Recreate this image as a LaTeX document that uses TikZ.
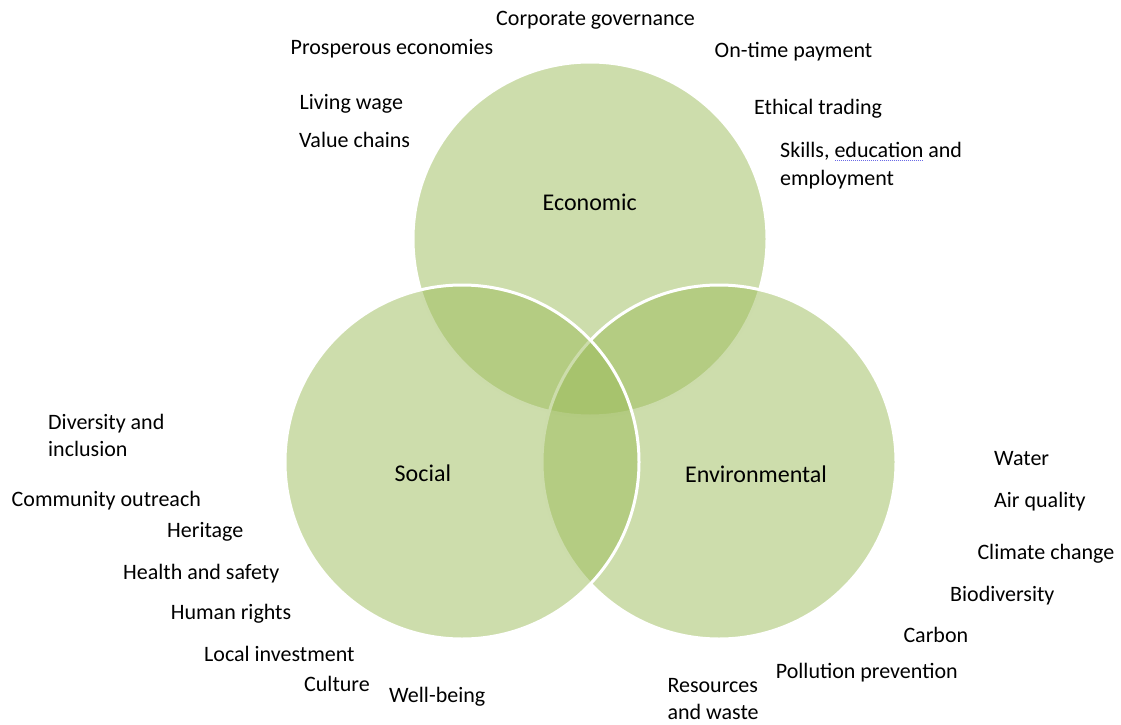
\documentclass[tikz,border=0pt]{standalone}
\usepackage{fontspec}
\setmainfont{Carlito}
\usepackage{xcolor}
\usetikzlibrary{positioning}
\definecolor{pillargreen}{HTML}{9BBB59}
\definecolor{spellblue}{HTML}{6A6AE6}

\newcommand{\spellmark}[1]{\setbox0\hbox{#1}\rlap{\color{spellblue}\raisebox{-3.4pt}{\hbox to\wd0{\xleaders\hbox to 2pt{\hss\rule{1pt}{0.9pt}\hss}\hfill}}}#1}

\begin{document}
\begin{tikzpicture}[
  x=1pt, y=-1pt,
  every node/.style={font=\fontsize{22}{27.5}\selectfont, inner sep=0pt},
  pillar/.style={circle, draw=white, line width=3pt, fill=pillargreen, fill opacity=0.5, draw opacity=1, minimum size=354pt, anchor=center},
  title/.style={anchor=base west, font=\fontsize{24}{29}\selectfont},
  item/.style={anchor=base west, align=left}
]
\useasboundingbox (0,0) rectangle (1121,725);

\node[pillar] (eco) at (590,239) {};
\node[pillar] (env) at (719,462) {};
\node[pillar] (soc) at (462,462) {};

\node[title] (ecolabel) at (542.5,210.7) {Economic};
\node[title] (soclabel) at (394.5,481.7) {Social};
\node[title] (envlabel) at (685,482.3) {Environmental};

% two-line items sit on the baseline of their last line
\node[item] (governance) at (496,25.7) {Corporate governance};
\node[item] (prosperous) at (290.5,55) {Prosperous economies};
\node[item] (payment) at (714.5,57.7) {On-time payment};
\node[item] (wage) at (299.5,109.3) {Living wage};
\node[item] (chains) at (299,147.3) {Value chains};
\node[item] (trading) at (754,114.3) {Ethical trading};
\node[item] (skills) at (780,185) {Skills, \spellmark{education} and\\employment};

\node[item] (diversity) at (48,456.5) {Diversity and\\inclusion};
\node[item] (outreach) at (11.5,506) {Community outreach};
\node[item] (heritage) at (167,537.3) {Heritage};
\node[item] (safety) at (123,579.3) {Health and safety};
\node[item] (rights) at (170.7,619.3) {Human rights};
\node[item] (investment) at (204,661) {Local investment};
\node[item] (culture) at (304,691) {Culture};
\node[item] (wellbeing) at (389,702.7) {Well-being};

\node[item] (water) at (994,465.7) {Water};
\node[item] (air) at (994,507.7) {Air quality};
\node[item] (climate) at (977.3,559.3) {Climate change};
\node[item] (biodiversity) at (950,601) {Biodiversity};
\node[item] (carbon) at (903.3,642.7) {Carbon};
\node[item] (pollution) at (775.7,678.7) {Pollution prevention};
\node[item] (resources) at (667.3,719.5) {Resources\\and waste};
\end{tikzpicture}
\end{document}
